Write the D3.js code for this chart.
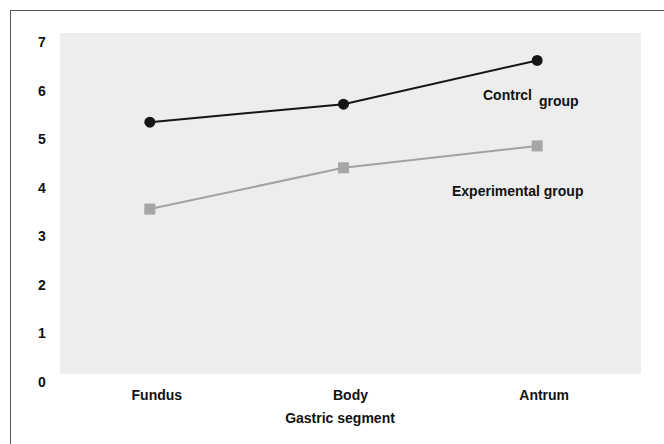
<!DOCTYPE html>
<html><head><meta charset="utf-8">
<script src="https://cdn.jsdelivr.net/npm/d3@7"></script>
<style>body{margin:0;background:#fff}text{font-family:"Liberation Sans",Arial,sans-serif;font-weight:bold;fill:#111}</style>
</head><body><svg id="c" width="664" height="444"></svg>
<script>
const categories = ["Fundus", "Body", "Antrum"];
const controlValues = [5.35, 5.72, 6.62];
const experimentalValues = [3.56, 4.41, 4.86];
const yTicks = [0, 1, 2, 3, 4, 5, 6, 7];
const xTitle = "Gastric segment";

const svg = d3.select("#c");
// frame (top and left visible)
svg.append("line").attr("x1",10).attr("y1",10.5).attr("x2",664).attr("y2",10.5).attr("stroke","#555").attr("stroke-width",1);
svg.append("line").attr("x1",10.5).attr("y1",10).attr("x2",10.5).attr("y2",444).attr("stroke","#555").attr("stroke-width",1);

const plot = {l:60, r:641, t:33, b:374};
svg.append("rect").attr("x",plot.l).attr("y",plot.t).attr("width",plot.r-plot.l).attr("height",plot.b-plot.t).attr("fill","#ededed");

const x = d3.scaleBand().domain(categories).range([plot.l, plot.r]);
const y = d3.scaleLinear().domain([0,7]).range([382, 42]);
const mx = c => x(c) + x.bandwidth()/2 - 7;

// y tick labels
svg.append("g").selectAll("text").data(yTicks).join("text")
  .attr("x",42).attr("y",d=>y(d)).attr("dy","0.36em").attr("text-anchor","middle")
  .attr("font-size",14).text(d=>d);

// x labels
svg.append("g").selectAll("text").data(categories).join("text")
  .attr("x",c=>x(c)+x.bandwidth()/2).attr("y",400).attr("text-anchor","middle")
  .attr("font-size",14).text(c=>c);
svg.append("text").attr("x",340).attr("y",423).attr("text-anchor","middle").attr("font-size",14).text(xTitle);

const line = d3.line().x((d,i)=>mx(categories[i])).y(d=>y(d));
svg.append("path").datum(experimentalValues).attr("d",line).attr("fill","none").attr("stroke","#a2a2a4").attr("stroke-width",2);
svg.append("path").datum(controlValues).attr("d",line).attr("fill","none").attr("stroke","#151515").attr("stroke-width",2);

svg.append("g").selectAll("rect").data(experimentalValues).join("rect")
  .attr("x",(d,i)=>mx(categories[i])-5.5).attr("y",d=>y(d)-5.5).attr("width",11).attr("height",11).attr("fill","#a6a6a9");
svg.append("g").selectAll("circle").data(controlValues).join("circle")
  .attr("cx",(d,i)=>mx(categories[i])).attr("cy",d=>y(d)).attr("r",5.5).attr("fill","#151515");

svg.append("text").attr("x",483).attr("y",100).attr("font-size",14).text("Contrcl");
svg.append("text").attr("x",539).attr("y",106).attr("font-size",14).text("group");
svg.append("text").attr("x",452).attr("y",196).attr("font-size",14).text("Experimental group");
</script></body></html>
